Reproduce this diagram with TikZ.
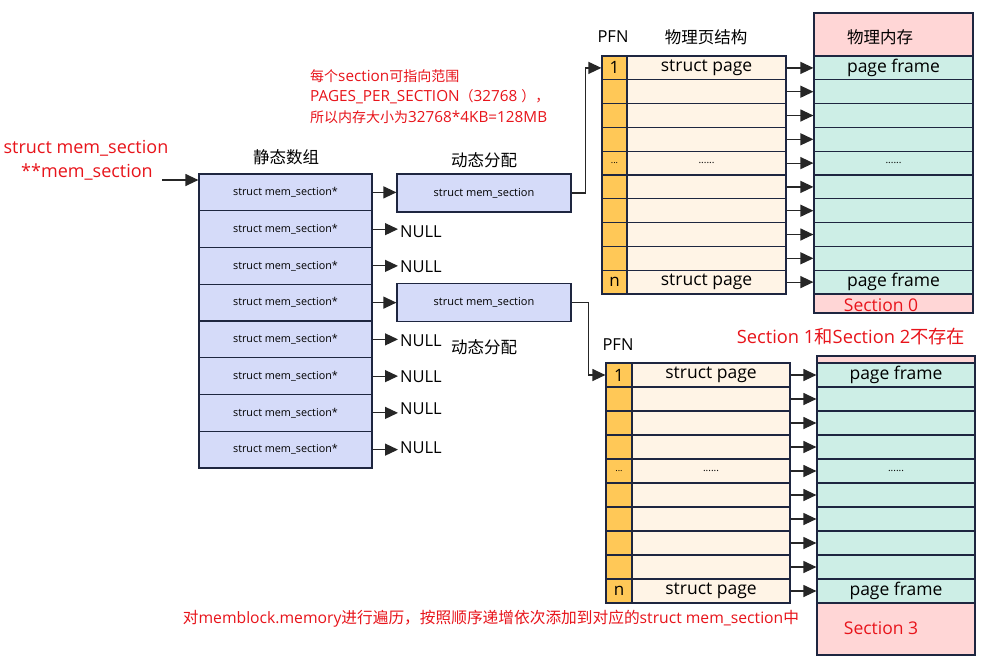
\documentclass[tikz,border=0pt]{standalone}
\usepackage{fontspec}
\setmainfont{Open Sans}
\newfontfamily\cjk{Noto Sans CJK SC}
\usetikzlibrary{arrows.meta}
\definecolor{navy}{HTML}{1E2640}
\definecolor{lav}{HTML}{D5DBF9}
\definecolor{pfnc}{HTML}{FFC857}
\definecolor{spc}{HTML}{FFF4E6}
\definecolor{tealc}{HTML}{CDEEE6}
\definecolor{pinkc}{HTML}{FFD6D6}
\definecolor{redc}{HTML}{E8141B}
\begin{document}
\begin{tikzpicture}[x=1pt,y=-1pt,
  box/.style={draw=navy,line width=1.2pt,inner sep=0pt},
  sarr/.style={box,fill=lav,minimum width=173pt,minimum height=36.75pt,font=\fontsize{10.8}{12}\selectfont},
  dyn/.style={box,fill=lav,minimum width=174pt,minimum height=38pt,font=\fontsize{11}{12}\selectfont},
  pfn/.style={box,fill=pfnc,minimum width=25pt,minimum height=#1,font=\fontsize{17}{18}\selectfont},
  spg/.style={box,fill=spc,minimum width=159pt,minimum height=#1,font=\fontsize{17.5}{18}\selectfont},
  mem/.style={box,fill=tealc,minimum width=159pt,minimum height=#1,font=\fontsize{17.5}{18}\selectfont},
  pinkbox/.style={box,fill=pinkc,minimum width=159pt},
  arr/.style={draw=black!85,line width=1.2pt,-{Triangle[length=13pt,width=12pt,fill=black!85]}},
  lbl/.style={inner sep=0pt,font=\fontsize{16.5}{18}\selectfont},
  clbl/.style={inner sep=0pt,font=\cjk\fontsize{16.5}{18}\selectfont},
  redt/.style={inner sep=0pt,text=redc}
]
\useasboundingbox (0,0) rectangle (982,665);
\fill[white] (0,0) rectangle (982,665);

% left red label
\node[redt,font=\fontsize{18}{20}\selectfont] (t1) at (86,148) {struct mem\_section};
\node[redt,font=\fontsize{18}{20}\selectfont] (t2) at (87,172) {**mem\_section};
\coordinate (pstart) at (162,180);

% static array
\node[clbl] (hs) at (286,157) {静态数组};
\foreach \i in {1,...,8}{
  \pgfmathsetmacro\yy{174+36.75*(\i-0.5)}
  \node[sarr] (s\i) at (285.5,\yy) {struct mem\_section*};
}
\draw[arr] (pstart) -- (pstart -| s1.west);

% dynamic
\node[clbl] (hd1) at (484,160) {动态分配};
\node[dyn] (d1) at (484,193) {struct mem\_section};
\node[dyn] (d2) at (484,302.5) {struct mem\_section};
\node[clbl] (hd2) at (484,347) {动态分配};
\draw[arr] (s1.east) -- (s1.east -| d1.west);
\draw[arr] (s4.east) -- (s4.east -| d2.west);

% NULLs
\node[lbl,anchor=west] (nl2) at (400,232) {NULL};
\node[lbl,anchor=west] (nl3) at (400,267) {NULL};
\node[lbl,anchor=west] (nl5) at (400,341) {NULL};
\node[lbl,anchor=west] (nl6) at (400,377) {NULL};
\node[lbl,anchor=west] (nl7) at (400,409) {NULL};
\node[lbl,anchor=west] (nl8) at (400,448) {NULL};
\foreach \i in {2,3,5,6,7,8}{
  \draw[arr] (s\i.east) -- ([xshift=-2pt]s\i.east -| nl\i.west);
}

% red note top
\node[redt,anchor=west,font=\fontsize{15.3}{16}\selectfont] (r1) at (310,76) {{\cjk\fontsize{14}{16}\selectfont 每个}section{\cjk\fontsize{14}{16}\selectfont 可指向范围}};
\node[redt,anchor=west,font=\fontsize{15.3}{16}\selectfont] (r2) at (310,97) {PAGES\_PER\_SECTION{\cjk\fontsize{14}{16}\selectfont （}32768 {\cjk\fontsize{14}{16}\selectfont ），}};
\node[redt,anchor=west,font=\fontsize{15.3}{16}\selectfont] (r3) at (310,117) {{\cjk\fontsize{14}{16}\selectfont 所以内存大小为}32768*4KB=128MB};

% top table
\node[lbl] (pfn1) at (613,37) {PFN};
\node[clbl] (hp1) at (706,37) {物理页结构};
\node[pinkbox,minimum height=43pt] (mh) at (893.5,34.5) {};
\node[clbl] (mht) at (880,37) {物理内存};
\foreach \i/\p/\s/\m in {1/1/struct page/page frame,2///,3///,4///,5/{\fontsize{9}{10}\selectfont ...}/{\fontsize{10}{10}\selectfont ......}/{\fontsize{10}{10}\selectfont ......},6///,7///,8///,9///,10/n/struct page/page frame}{
  \pgfmathsetmacro\yy{56+23.8*(\i-0.5)}
  \node[pfn=23.8pt] (a\i) at (614.5,\yy) {\p};
  \node[spg=23.8pt] (b\i) at (706.5,\yy) {\s};
  \node[mem=23.8pt] (m\i) at (893.5,\yy) {\m};
  \draw[arr] (b\i.east) -- (m\i.west);
}
\node[pinkbox,minimum height=19pt] (sec0) at (893.5,303.5) {};
\node[redt,font=\fontsize{17.5}{18}\selectfont] (sec0t) at (881,305) {Section 0};
\draw[arr] (d1.east) -- ++(14,0) |- (a1.west);

% bottom table
\node[lbl] (pfn2) at (618,345) {PFN};
\node[redt,font=\fontsize{18.3}{20}\selectfont] (miss) at (851,337) {Section 1{\cjk 和}Section 2{\cjk 不存在}};
\node[pinkbox,minimum height=7pt,minimum width=158pt] (strip) at (896,359.5) {};
\foreach \i/\p/\s/\m in {1/1/struct page/page frame,2///,3///,4///,5/{\fontsize{9}{10}\selectfont ...}/{\fontsize{10}{10}\selectfont ......}/{\fontsize{10}{10}\selectfont ......},6///,7///,8///,9///,10/n/struct page/page frame}{
  \pgfmathsetmacro\yy{363+24*(\i-0.5)}
  \node[pfn=24pt,minimum width=26pt] (c\i) at (619,\yy) {\p};
  \node[spg=24pt,minimum width=158pt] (e\i) at (711,\yy) {\s};
  \node[mem=24pt,minimum width=158pt] (f\i) at (896,\yy) {\m};
  \draw[arr] (e\i.east) -- (f\i.west);
}
\node[pinkbox,minimum height=52pt,minimum width=158pt] (sec3) at (896,629) {};
\node[redt,font=\fontsize{17.5}{18}\selectfont] (sec3t) at (881,628) {Section 3};
\draw[arr] (d2.east) -- ++(17,0) |- (c1.west);

% bottom note
\node[redt,font=\fontsize{15.7}{17}\selectfont] (bn) at (491,619) {{\cjk 对}memblock.memory{\cjk 进行遍历，按照顺序递增依次添加到对应的}struct mem\_section{\cjk 中}};
\end{tikzpicture}
\end{document}
